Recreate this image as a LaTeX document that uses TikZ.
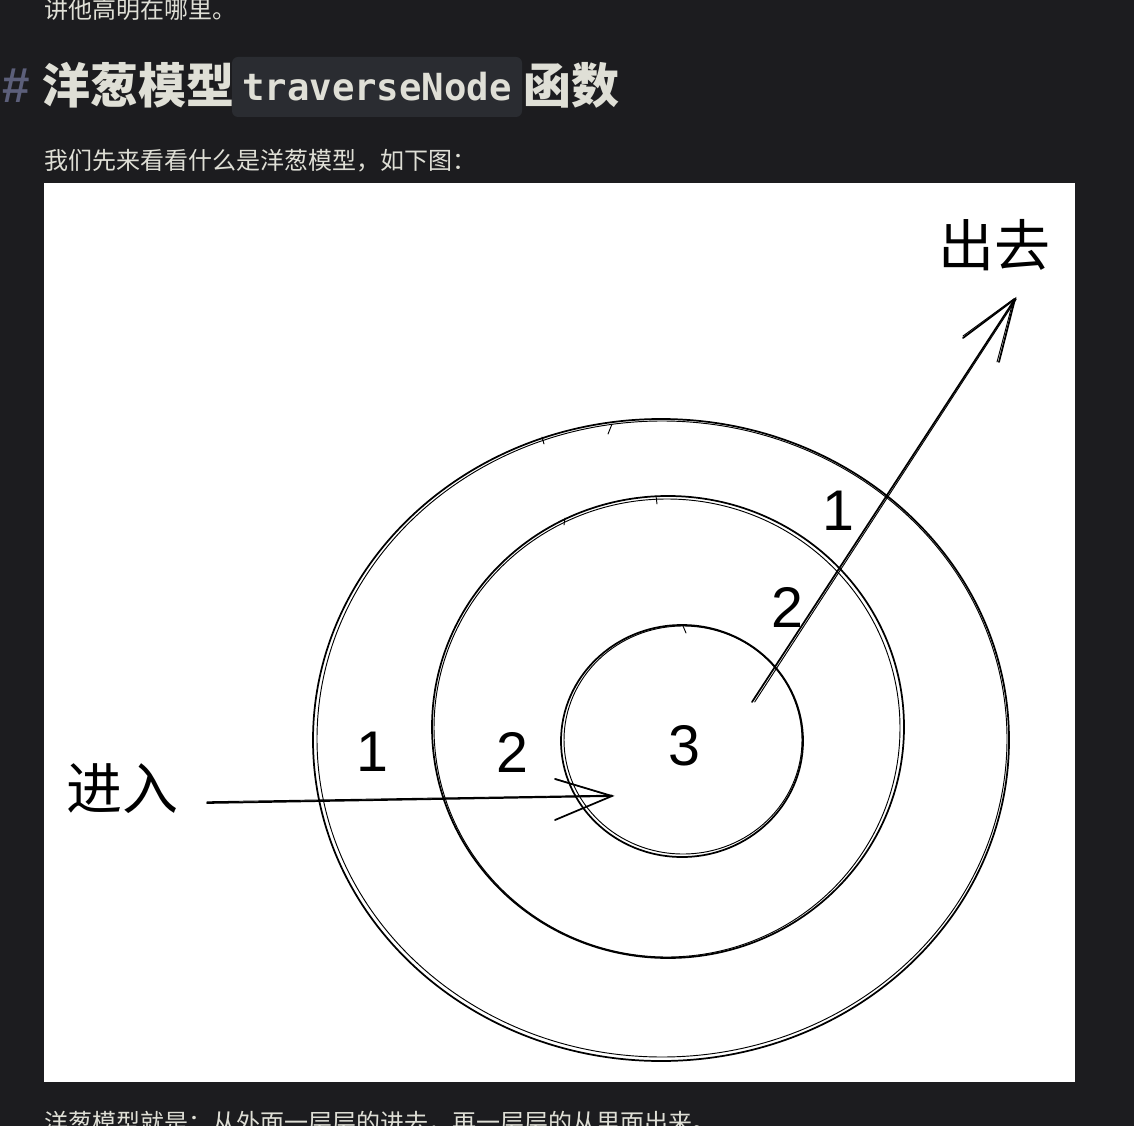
\documentclass[tikz,border=0pt]{standalone}
\usepackage{fontspec}
\setmainfont{Liberation Sans}
\newfontfamily\cjk{Noto Sans CJK SC}
\newfontfamily\mono{DejaVu Sans Mono}
\definecolor{pagebg}{HTML}{1C1C1F}
\definecolor{txt}{HTML}{DFDFD6}
\definecolor{hashc}{HTML}{5C5F7A}
\definecolor{codebg}{HTML}{2A2C31}
\tikzset{
  para/.style={inner sep=0pt, text=txt, font=\cjk\fontsize{18}{21}\selectfont},
  headcjk/.style={inner sep=0pt, text=txt, font=\cjk\bfseries\fontsize{36}{40}\selectfont},
  hashmark/.style={inner sep=0pt, text=hashc, font=\bfseries\fontsize{37}{40}\selectfont},
  codebox/.style={fill=codebg, rounded corners=4.5pt, inner sep=0pt, text=txt,
     minimum width=217.5pt, minimum height=45pt, font=\mono\bfseries\fontsize{28}{30}\selectfont},
  digit/.style={inner sep=0pt, text=black, font=\fontsize{43}{43}\selectfont},
  biglabel/.style={inner sep=0pt, text=black, font=\cjk\fontsize{42}{44}\selectfont},
  ring/.style={draw=black, line width=1.3pt},
  ringb/.style={draw=black, line width=0.7pt},
  stroke/.style={draw=black, line width=1.3pt, line cap=round},
  strokeb/.style={draw=black, line width=0.7pt, line cap=round},
}
\begin{document}
\begin{tikzpicture}[x=0.75pt,y=-0.75pt]
\useasboundingbox (0,0) rectangle (1134,1126);
\clip (0,0) rectangle (1134,1126);
\fill[pagebg] (0,0) rectangle (1134,1126);
% page text above
\node[para, anchor=base west] (topline) at (44,19) {讲他高明在哪里。};
\node[hashmark] (hash) at (16,86) {\#};
\node[headcjk] (h1) at (138,85) {洋葱模型};
\node[codebox] (code) at (377,87) {traverseNode};
\node[headcjk] (h2) at (571,85) {函数};
\node[para, anchor=west] (intro) at (44,161) {我们先来看看什么是洋葱模型，如下图：};
% picture area
\fill[white] (44,183) rectangle (1075,1082);
% rings
\draw[ring] (661,740) ellipse [x radius=348, y radius=321];
\draw[ringb] (662,739) ellipse [x radius=345, y radius=318];
\draw[ring] (668,727) ellipse [x radius=236, y radius=231];
\draw[ringb] (667,728) ellipse [x radius=233, y radius=229];
\draw[ring] (682,741) ellipse [x radius=121, y radius=116];
\draw[ringb] (683,740) ellipse [x radius=119, y radius=114];
% small sketch ticks on rings
\draw[strokeb] (612,424) -- (608,434);
\draw[strokeb] (542,437) -- (544,444);
\draw[strokeb] (656,496) -- (657,504);
\draw[strokeb] (565,518) -- (564,525);
\draw[strokeb] (683,626) -- (686,633);
% labels
\node[digit] (o1) at (372,752) {1};
\node[digit] (m2) at (512,752) {2};
\node[digit] (c3) at (684,746) {3};
\node[digit] (r1) at (838,511) {1};
\node[digit] (r2) at (787,607) {2};
\node[biglabel] (enter) at (122,789) {进入};
\node[biglabel] (exit) at (994,245) {出去};
% arrow coordinates
\coordinate (inStart) at (207,803);
\coordinate (inTip) at (612,796);
\coordinate (inBarbA) at (555,779);
\coordinate (inBarbB) at (555,820);
\coordinate (outStart) at (752,702);
\coordinate (outTip) at (1015,299);
\coordinate (outBarbA) at (963,338);
\coordinate (outBarbB) at (999,362);
% in arrow
\draw[stroke] (inStart) -- (inTip);
\draw[strokeb] ([yshift=0.9pt]inStart) -- ([yshift=0.6pt]inTip);
\draw[stroke] (inBarbA) -- (inTip) -- (inBarbB);
\draw[strokeb] ([xshift=0.8pt]inBarbA) -- ([xshift=-1pt]inTip);
% out arrow
\draw[stroke] (outStart) -- (outTip);
\draw[strokeb] ([xshift=2pt]outStart) -- ([xshift=1pt]outTip);
\draw[stroke] (outBarbA) -- (outTip) -- (outBarbB);
\draw[strokeb] ([yshift=1.5pt]outBarbA) -- ([xshift=-1pt]outTip);
\draw[strokeb] ([xshift=-1.5pt]outBarbB) -- ([xshift=-1pt]outTip);
% page text below
\node[para, anchor=base west] (bottomline) at (44,1131) {洋葱模型就是：从外面一层层的进去，再一层层的从里面出来。};
\end{tikzpicture}
\end{document}
